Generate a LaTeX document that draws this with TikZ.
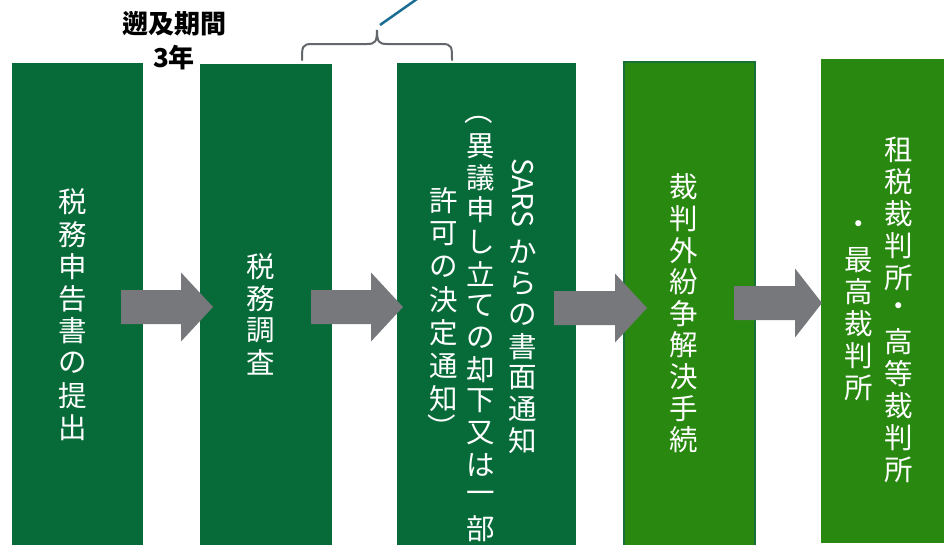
\documentclass[tikz,border=0pt]{standalone}
\usepackage{fontspec}
\usepackage{graphicx}
\newfontfamily\cjk{Noto Sans CJK JP}
\definecolor{dkgreen}{HTML}{066B38}
\definecolor{ltgreen}{HTML}{288810}
\definecolor{bordergreen}{HTML}{17703A}
\definecolor{arrowgray}{HTML}{76787B}
\definecolor{bracegray}{HTML}{63666A}
\definecolor{lineblue}{HTML}{1A6E94}
\tikzset{
  stage/.style={anchor=north west, inner sep=0pt, outer sep=0pt, minimum height=500pt},
  darkstage/.style={stage, fill=dkgreen},
  lightstage/.style={stage, fill=ltgreen},
  vch/.style={inner sep=0pt, text=white, font=\cjk\fontsize{28.5}{30}\selectfont},
  blockarrow/.style={fill=arrowgray},
  bracestyle/.style={draw=bracegray, line width=2pt, line cap=round},
  toplabel/.style={inner sep=0pt, font=\cjk\bfseries\fontsize{26}{30}\selectfont, text=black}
}
\newcommand\vcolumn[5]{%
  \foreach \ch [count=\i from 0] in {#5} {\node[vch] (#1-\i) at (#2, #3+#4*\i) {\ch};}}
\newcommand\blockarr[4]{%
  \fill[blockarrow] (#1,#4-17) -- (#2,#4-17) -- (#2,#4-34.5) -- (#3,#4)
    -- (#2,#4+34.5) -- (#2,#4+17) -- (#1,#4+17) -- cycle;}
\begin{document}
\begin{tikzpicture}[x=1pt,y=-1pt]
\useasboundingbox (0,0) rectangle (944,544);
\fill[white] (0,0) rectangle (944,544);
% stages
\node[darkstage, minimum width=131pt] (b1) at (12,63) {};
\node[darkstage, minimum width=132pt] (b2) at (200,64) {};
\node[darkstage, minimum width=179pt] (b3) at (397,63) {};
\node[lightstage, minimum width=131pt, draw=bordergreen, line width=2pt] (b4) at (624,62) {};
\node[lightstage, minimum width=130pt, minimum height=484pt] (b5) at (821,59) {};
% block arrows
\blockarr{121}{181}{213}{307}
\blockarr{311}{371}{403}{307}
\blockarr{554}{615}{647}{308}
\blockarr{734}{795}{822}{303}
% vertical texts
\vcolumn{t1}{72.5}{202}{32.2}{税,務,申,告,書,の,提,出}
\vcolumn{t2}{261}{267}{31.8}{税,務,調,査}
\node[vch, rotate=-90] (t3sars) at (523,193) {SARS};
\vcolumn{t3a}{523}{252}{31.4}{か,ら,の,書,面,通,知}
\node[vch] (t3paren) at (479,120) {︵};
\vcolumn{t3b}{481}{146}{31.9}{異,議,申,し,立,て,の,却,下,又,は,一,部}
\vcolumn{t3c}{444}{201}{33}{許,可,の,決,定,通,知}
\node[vch] (t3close) at (442,427) {︶};
\vcolumn{t4}{684}{187}{31.6}{裁,判,外,紛,争,解,決,手,続}
\vcolumn{t5a}{898.5}{150}{32}{租,税,裁,判,所,・,高,等,裁,判,所}
\vcolumn{t5b}{859}{228}{32}{・,最,高,裁,判,所}
% top label
\node[toplabel] (period1) at (174,24) {遡及期間};
\node[toplabel] (period2) at (174,58) {3年};
% brace and callout line
\coordinate (braceL) at (302,60);
\coordinate (braceR) at (452,60);
\coordinate (bracetip) at (377,30);
\draw[bracestyle] (braceL) .. controls (302,47) and (302,44) .. (312,44) -- (367,44)
  .. controls (375,44) and (377,42) .. (bracetip)
  .. controls (377,42) and (379,44) .. (387,44) -- (442,44)
  .. controls (452,44) and (452,47) .. (braceR);
\coordinate (callout) at (380,25);
\coordinate (calloutend) at (417,-1);
\draw[lineblue, line width=2.5pt] (callout) -- (calloutend);
\end{tikzpicture}
\end{document}
